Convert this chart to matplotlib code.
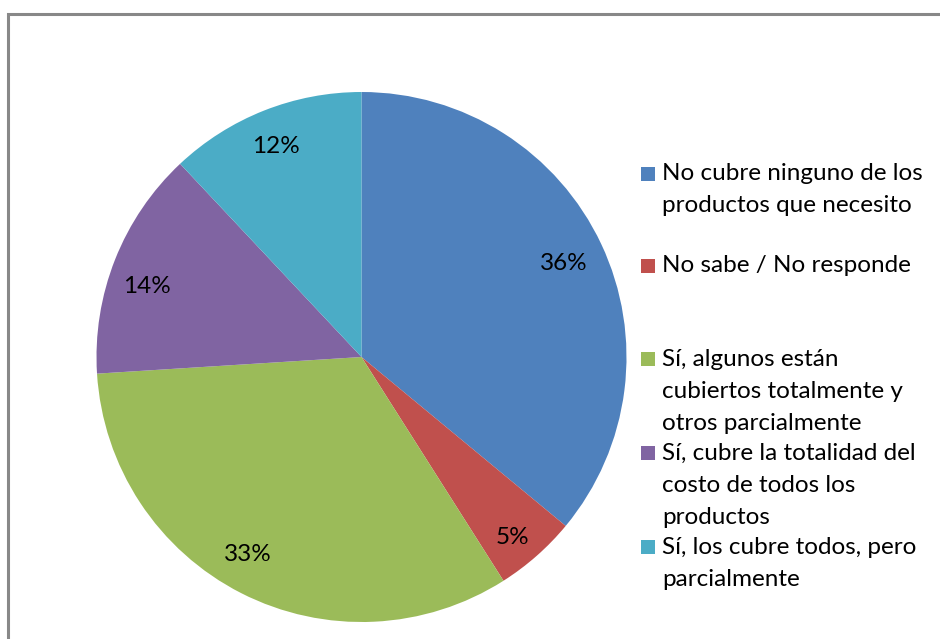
import matplotlib
matplotlib.use('Agg')
import matplotlib.pyplot as plt
from matplotlib.patches import Rectangle

# Data
labels = ['No cubre ninguno de los\nproductos que necesito',
          'No sabe / No responde',
          'Sí, algunos están\ncubiertos totalmente y\notros parcialmente',
          'Sí, cubre la totalidad del\ncosto de todos los\nproductos',
          'Sí, los cubre todos, pero\nparcialmente']
values = [36, 5, 33, 14, 12]
colors = ['#4F81BD', '#C0504D', '#9BBB59', '#8064A2', '#4BACC6']

plt.rcParams['font.family'] = ['Lato', 'DejaVu Sans']

W, H = 940, 639
fig = plt.figure(figsize=(W / 100, H / 100), dpi=100)

# chart frame
fig.patches.append(Rectangle((8 / W, -0.1), 1.2, (H - 14) / H + 0.1,
                             transform=fig.transFigure, fill=False,
                             edgecolor='#888888', linewidth=2.2))

# Pie (center 361,357 px, radius 265 px)
cx, cy, R = 361.5, 357, 265
ax = fig.add_axes([(cx - R) / W, (H - cy - R) / H, 2 * R / W, 2 * R / H])
wedges, texts, autotexts = ax.pie(values, colors=colors, startangle=90,
                                  counterclock=False, autopct='%d%%',
                                  pctdistance=0.86, radius=1,
                                  textprops=dict(fontsize=17.5, color='black'))
# small nudges toward the original label placement (px, +y = down)
nudges = [(-4, 4), (0, 10), (-10, -6), (-3, 13), (-2, 1)]
for t, (dx, dy) in zip(autotexts, nudges):
    x, y = t.get_position()
    t.set_position((x + dx / R, y - dy / R))
ax.set_xlim(-1, 1)
ax.set_ylim(-1, 1)
ax.set_aspect('equal')
ax.axis('off')

# Legend (manual, irregular spacing like the original)
entry_y = [174, 266, 359, 453, 547]  # first-line centers in px
line_h = 32
for lab, col, y in zip(labels, colors, entry_y):
    fig.patches.append(Rectangle((641 / W, 1 - (y + 7) / H), 14 / W, 14 / H,
                                 transform=fig.transFigure, facecolor=col,
                                 edgecolor='none'))
    for i, line in enumerate(lab.split('\n')):
        fig.text(662 / W, 1 - (y + i * line_h) / H, line, fontsize=17.5,
                 va='center', ha='left')

fig.savefig('out.png', dpi=100)
